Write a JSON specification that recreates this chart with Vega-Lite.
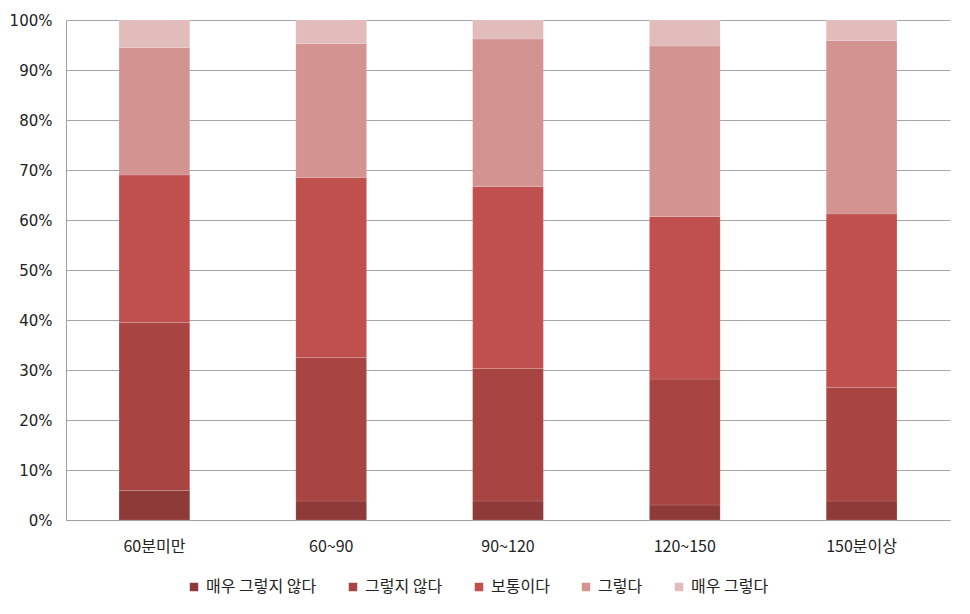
{
  "$schema": "https://vega.github.io/schema/vega-lite/v6.json",
  "autosize": {"type": "none"},
  "width": 884,
  "height": 500,
  "padding": {"left": 66, "top": 20, "right": 20, "bottom": 94},
  "background": "white",
  "data": {
    "values": [
      {"group": "60분미만", "answer": "매우 그렇지 않다", "k": 1, "pct": 5.9},
      {"group": "60분미만", "answer": "그렇지 않다", "k": 2, "pct": 33.6},
      {"group": "60분미만", "answer": "보통이다", "k": 3, "pct": 29.5},
      {"group": "60분미만", "answer": "그렇다", "k": 4, "pct": 25.5},
      {"group": "60분미만", "answer": "매우 그렇다", "k": 5, "pct": 5.5},
      {"group": "60~90", "answer": "매우 그렇지 않다", "k": 1, "pct": 3.8},
      {"group": "60~90", "answer": "그렇지 않다", "k": 2, "pct": 28.7},
      {"group": "60~90", "answer": "보통이다", "k": 3, "pct": 36.0},
      {"group": "60~90", "answer": "그렇다", "k": 4, "pct": 26.8},
      {"group": "60~90", "answer": "매우 그렇다", "k": 5, "pct": 4.7},
      {"group": "90~120", "answer": "매우 그렇지 않다", "k": 1, "pct": 3.8},
      {"group": "90~120", "answer": "그렇지 않다", "k": 2, "pct": 26.5},
      {"group": "90~120", "answer": "보통이다", "k": 3, "pct": 36.4},
      {"group": "90~120", "answer": "그렇다", "k": 4, "pct": 29.5},
      {"group": "90~120", "answer": "매우 그렇다", "k": 5, "pct": 3.8},
      {"group": "120~150", "answer": "매우 그렇지 않다", "k": 1, "pct": 3.0},
      {"group": "120~150", "answer": "그렇지 않다", "k": 2, "pct": 25.2},
      {"group": "120~150", "answer": "보통이다", "k": 3, "pct": 32.5},
      {"group": "120~150", "answer": "그렇다", "k": 4, "pct": 34.1},
      {"group": "120~150", "answer": "매우 그렇다", "k": 5, "pct": 5.2},
      {"group": "150분이상", "answer": "매우 그렇지 않다", "k": 1, "pct": 3.8},
      {"group": "150분이상", "answer": "그렇지 않다", "k": 2, "pct": 22.7},
      {"group": "150분이상", "answer": "보통이다", "k": 3, "pct": 34.7},
      {"group": "150분이상", "answer": "그렇다", "k": 4, "pct": 34.7},
      {"group": "150분이상", "answer": "매우 그렇다", "k": 5, "pct": 4.1}
    ]
  },
  "mark": {"type": "bar", "stroke": "white", "strokeOpacity": 0.12, "strokeWidth": 1},
  "encoding": {
    "x": {
      "field": "group",
      "type": "nominal",
      "sort": null,
      "title": null,
      "scale": {"paddingInner": 0.6, "paddingOuter": 0.3},
      "axis": {
        "labelAngle": 0,
        "ticks": false,
        "labelPadding": 18,
        "labelFontSize": 16,
        "labelFont": "Noto Sans CJK KR",
        "labelColor": "#222222",
        "domainColor": "#a0a0a0"
      }
    },
    "y": {
      "field": "pct",
      "type": "quantitative",
      "stack": "normalize",
      "title": null,
      "scale": {"domain": [0, 1], "nice": false},
      "axis": {
        "format": ".0%",
        "values": [0, 0.1, 0.2, 0.3, 0.4, 0.5, 0.6, 0.7, 0.8, 0.9, 1],
        "labelOverlap": false,
        "ticks": false,
        "labelPadding": 14,
        "labelFontSize": 15,
        "labelFont": "DejaVu Sans",
        "labelColor": "#222222",
        "domainColor": "#a0a0a0",
        "gridColor": "#a6a6a6",
        "gridOpacity": 1
      }
    },
    "order": {"field": "k", "type": "quantitative"},
    "color": {
      "field": "answer",
      "type": "nominal",
      "title": null,
      "scale": {
        "domain": ["매우 그렇지 않다", "그렇지 않다", "보통이다", "그렇다", "매우 그렇다"],
        "range": ["#8e3a39", "#a84543", "#c0504d", "#d39391", "#e2bcbb"]
      },
      "legend": {
        "orient": "none",
        "direction": "horizontal",
        "legendX": 120,
        "legendY": 559,
        "symbolType": "square",
        "symbolSize": 72,
        "symbolStrokeWidth": 0,
        "labelFontSize": 16,
        "labelFont": "Noto Sans CJK KR",
        "labelColor": "#222222",
        "labelOffset": 4,
        "columnPadding": 28
      }
    }
  },
  "config": {
    "view": {"stroke": null},
    "axis": {"gridWidth": 1}
  }
}
